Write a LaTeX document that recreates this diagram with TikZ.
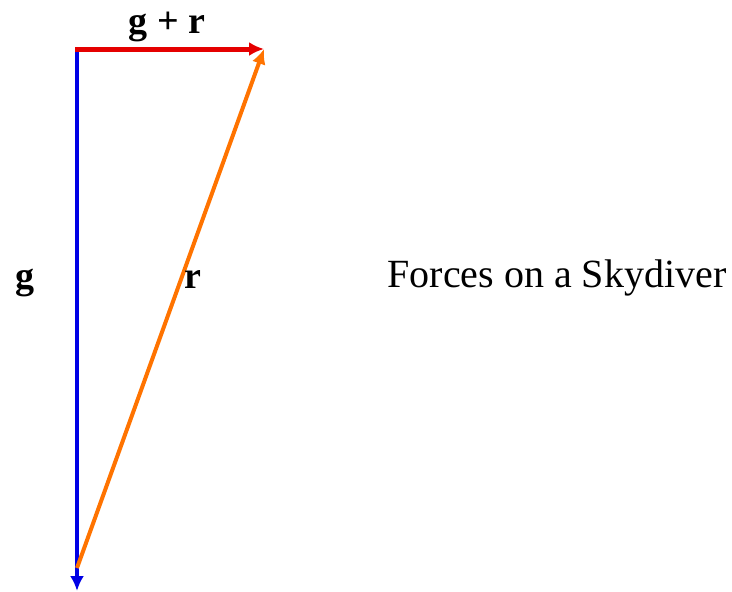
\documentclass[tikz,border=0pt]{standalone}
\usepackage{fontspec}
\setmainfont{Liberation Serif}
\usetikzlibrary{arrows.meta}
\colorlet{colg}{blue!90!black}
\colorlet{colr}{orange!90!red}
\colorlet{colgr}{red!90!black}
\tikzset{
  ar/.style={-{Latex[length=15pt, width=14pt]}, line width=4pt, #1},
  vlbl/.style={font=\fontsize{38}{40}\selectfont\bfseries, anchor=base, inner sep=0pt},
  ttl/.style={font=\fontsize{40}{42}\selectfont, anchor=base, inner sep=0pt},
}
\begin{document}
\begin{tikzpicture}[x=1pt, y=-1pt]
\useasboundingbox (0,0) rectangle (732,592);

%% --- end points of the vectors ---
\coordinate (top)   at (77, 48);
\coordinate (tip)   at (264, 49);
\coordinate (foot)  at (77, 591);
\coordinate (start) at (77, 568);

%% --- vectors ---
\draw[ar=colg, line cap=butt] (top) -- (foot);
\draw[ar=colgr, line width=5pt] ([xshift=-2pt] top |- tip) -- (tip);
\draw[ar=colr] (start) -- (tip);

%% --- labels ---
\node[vlbl] (lg)  at (25, 288)  {g};
\node[vlbl] (lr)  at (193, 288) {r};
\node[vlbl] (lgr) at (167, 33)  {g + r};
\node[ttl]  (title) at (557, 287) {Forces on a Skydiver};
\end{tikzpicture}
\end{document}
